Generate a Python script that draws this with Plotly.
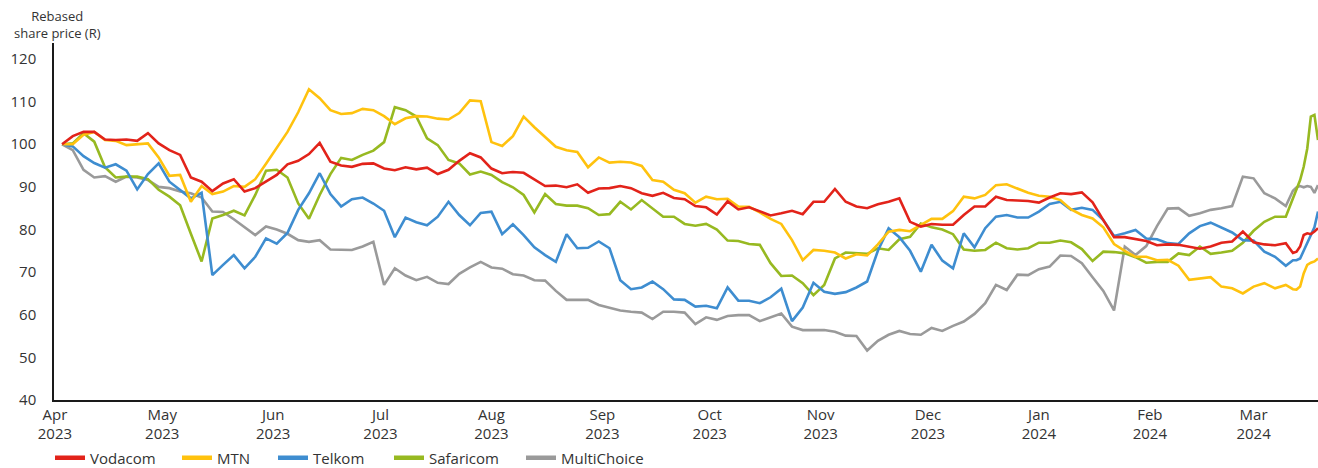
import pandas as pd
import plotly.graph_objects as go

# ---- data (rebased share price, R) ----
grid_dates = list(pd.date_range("2023-04-03", periods=115, freq="3D"))
end_dates = list(pd.date_range("2024-03-12", "2024-03-19", freq="D"))
dates = grid_dates + end_dates

vodacom = [
    100, 101.9, 102.9, 102.9, 101.1, 101.0, 101.1, 100.8, 102.6, 100.2,
    98.6, 97.5, 92.2, 91.2, 89.0, 90.8, 91.8, 88.9, 89.7, 91.2,
    92.8, 95.3, 96.1, 97.7, 100.3, 95.9, 95.0, 94.7, 95.4, 95.5,
    94.3, 93.9, 94.6, 94.1, 94.5, 93.0, 94.0, 96.1, 97.9, 96.9,
    94.3, 93.2, 93.5, 93.3, 91.8, 90.2, 90.3, 89.9, 90.6, 88.6,
    89.6, 89.7, 90.2, 89.7, 88.5, 87.9, 88.6, 87.4, 87.1, 85.5,
    85.2, 83.5, 86.6, 84.7, 85.2, 84.2, 83.3, 83.8, 84.4, 83.6,
    86.5, 86.5, 89.5, 86.5, 85.4, 85.0, 85.9, 86.5, 87.3, 81.8,
    80.7, 81.3, 81.1, 81.1, 83.4, 85.4, 85.4, 87.7, 86.9, 86.8,
    86.7, 86.3, 87.5, 88.5, 88.3, 88.7, 86.4, 82.2, 78.2, 78.2,
    77.7, 77.3, 76.3, 76.5, 76.4, 76.0, 75.5, 76.0, 76.9, 77.2,
    79.5, 77.0, 76.5, 76.3, 76.8,
    74.5, 74.8, 76.0, 78.7, 79.1, 78.9, 79.5, 80.3,
]

mtn = [
    100, 100.0, 102.2, 102.9, 101.0, 100.8, 99.8, 100.0, 100.2, 96.9,
    92.6, 92.8, 86.5, 90.2, 88.3, 88.9, 90.2, 90.0, 91.8, 95.4,
    99.2, 102.9, 107.5, 112.9, 110.8, 108.0, 107.1, 107.3, 108.3, 108.0,
    106.6, 104.7, 106.1, 106.6, 106.5, 106.0, 105.8, 107.3, 110.3, 110.1,
    100.5, 99.6, 101.9, 106.5, 104.0, 101.6, 99.4, 98.6, 98.2, 94.6,
    96.9, 95.7, 95.9, 95.7, 94.9, 91.6, 91.2, 89.3, 88.5, 86.3,
    87.7, 87.1, 87.2, 85.4, 85.3, 84.0, 82.5, 81.3, 77.5, 72.8,
    75.2, 75.0, 74.6, 73.2, 74.2, 73.9, 76.5, 79.5, 79.9, 79.6,
    81.1, 82.5, 82.5, 84.3, 87.7, 87.3, 88.1, 90.4, 90.6, 89.6,
    88.6, 87.9, 87.7, 86.9, 84.7, 83.4, 82.6, 80.5, 76.6, 75.0,
    73.6, 73.6, 72.8, 72.9, 71.5, 68.2, 68.5, 68.8, 66.6, 66.2,
    65.0, 66.6, 67.4, 66.2, 67.0,
    66.0, 65.9, 66.6, 69.7, 71.7, 72.2, 72.5, 73.2,
]

telkom = [
    100, 99.5, 97.2, 95.6, 94.5, 95.3, 93.8, 89.4, 93.0, 95.5,
    91.2, 89.3, 87.3, 88.6, 69.3, 71.7, 74.0, 70.9, 73.6, 77.9,
    76.7, 79.2, 84.6, 88.5, 93.2, 88.3, 85.4, 87.1, 87.5, 86.1,
    84.4, 78.2, 82.8, 81.7, 81.0, 83.0, 86.5, 83.4, 81.0, 83.9,
    84.2, 78.9, 81.2, 78.7, 75.8, 74.0, 72.4, 78.9, 75.6, 75.7,
    77.2, 75.6, 68.1, 66.0, 66.4, 67.8, 66.0, 63.6, 63.5, 61.9,
    62.1, 61.5, 66.4, 63.3, 63.3, 62.7, 64.1, 66.1, 58.5, 61.7,
    67.5, 65.4, 64.9, 65.3, 66.4, 67.8, 75.0, 80.3, 78.2, 75.0,
    70.1, 76.4, 72.7, 70.9, 79.1, 75.8, 80.3, 83.0, 83.4, 82.8,
    82.8, 84.2, 86.0, 86.5, 84.6, 85.1, 84.6, 82.2, 78.5, 79.1,
    79.9, 77.9, 77.7, 76.8, 76.6, 79.1, 80.8, 81.6, 80.5, 79.3,
    77.5, 77.4, 74.8, 73.6, 71.5,
    72.8, 72.8, 73.2, 75.0, 76.9, 78.5, 80.5, 84.2,
]

safaricom = [
    100, 100.2, 102.6, 100.6, 94.6, 92.2, 92.4, 92.4, 91.8, 89.3,
    87.7, 85.7, 79.0, 72.5, 82.6, 83.4, 84.4, 83.3, 88.1, 93.8,
    94.0, 92.2, 86.1, 82.5, 88.1, 93.0, 96.8, 96.3, 97.5, 98.5,
    100.5, 108.7, 108.0, 106.5, 101.4, 99.8, 96.3, 95.5, 92.9, 93.6,
    92.8, 91.1, 89.9, 88.1, 84.0, 88.3, 86.0, 85.6, 85.6, 85.0,
    83.4, 83.6, 86.5, 84.7, 86.9, 85.0, 83.0, 83.0, 81.3, 80.9,
    81.3, 80.0, 77.4, 77.3, 76.6, 76.4, 72.1, 69.1, 69.2, 67.4,
    64.6, 67.0, 73.2, 74.6, 74.5, 74.3, 75.6, 75.2, 77.7, 78.3,
    81.4, 80.5, 80.0, 78.9, 75.3, 75.0, 75.2, 76.9, 75.6, 75.3,
    75.6, 76.9, 76.9, 77.4, 77.0, 75.4, 72.6, 74.8, 74.7, 74.4,
    73.5, 72.2, 72.4, 72.4, 74.4, 74.0, 76.0, 74.3, 74.6, 75.0,
    76.9, 79.7, 81.8, 83.0, 83.0,
    87.3, 89.7, 91.6, 94.7, 99.0, 106.5, 106.9, 101.0,
]

multichoice = [
    100, 98.6, 94.0, 92.2, 92.5, 91.2, 92.4, 92.2, 91.6, 90.0,
    89.7, 88.9, 88.5, 87.5, 84.2, 84.1, 82.4, 80.5, 78.7, 80.7,
    80.0, 79.0, 77.5, 77.1, 77.5, 75.3, 75.2, 75.2, 76.0, 77.1,
    67.0, 70.9, 69.2, 68.1, 68.9, 67.5, 67.2, 69.6, 71.1, 72.4,
    71.1, 70.8, 69.5, 69.2, 68.1, 68.0, 65.6, 63.5, 63.5, 63.5,
    62.3, 61.6, 61.0, 60.7, 60.5, 59.0, 60.7, 60.7, 60.5, 57.8,
    59.4, 58.8, 59.7, 59.9, 59.9, 58.5, 59.4, 60.3, 57.2, 56.4,
    56.4, 56.4, 56.0, 55.1, 55.0, 51.6, 53.9, 55.3, 56.2, 55.5,
    55.3, 56.9, 56.2, 57.4, 58.4, 60.2, 62.7, 67.0, 65.8, 69.4,
    69.3, 70.7, 71.3, 73.9, 73.8, 72.1, 68.8, 65.6, 61.0, 76.0,
    74.0, 76.1, 80.8, 84.9, 85.0, 83.2, 83.8, 84.6, 85.0, 85.5,
    92.4, 92.0, 88.5, 87.3, 85.5,
    89.1, 89.9, 90.2, 89.9, 90.2, 90.0, 88.6, 90.4,
]

series_names = ["Vodacom", "MTN", "Telkom", "Safaricom", "MultiChoice"]
series_values = [vodacom, mtn, telkom, safaricom, multichoice]
series_colors = ["#E2231A", "#FFC20E", "#3E8DD0", "#97B921", "#9A9A9A"]

tick_dates = list(pd.date_range("2023-04-01", "2024-03-01", freq="MS"))
tick_labels = ["Apr<br>2023", "May<br>2023", "Jun<br>2023", "Jul<br>2023",
               "Aug<br>2023", "Sep<br>2023", "Oct<br>2023", "Nov<br>2023",
               "Dec<br>2023", "Jan<br>2024", "Feb<br>2024", "Mar<br>2024"]
y_ticks = [40, 50, 60, 70, 80, 90, 100, 110, 120]
y_title = "Rebased<br>share price (R)"

FONT = "Open Sans, Lato, Liberation Sans, sans-serif"
TXT = "#333333"
W, H = 1318, 468
legend_key_px = [50, 177, 273, 389, 521]   # left edge of each legend entry

fig = go.Figure()
# draw order: grey at the back, red on top
for idx in [4, 3, 2, 1, 0]:
    fig.add_trace(go.Scatter(
        x=dates, y=series_values[idx], name=series_names[idx], mode="lines",
        line=dict(color=series_colors[idx], width=2.6), showlegend=False,
    ))

legend_layouts = {}
for idx in range(5):
    lname = "legend" if idx == 0 else f"legend{idx + 1}"
    fig.add_trace(go.Scatter(
        x=[None], y=[None], name=series_names[idx], mode="lines",
        line=dict(color=series_colors[idx], width=4.5), showlegend=True,
        legend=lname,
    ))
    legend_layouts[lname] = dict(
        orientation="h", xref="container", x=legend_key_px[idx] / W,
        xanchor="left", yref="container", y=0.0215, yanchor="middle",
        font=dict(family=FONT, size=15, color=TXT),
        bgcolor="rgba(0,0,0,0)", borderwidth=0,
    )

fig.update_layout(
    width=W, height=H,
    margin=dict(l=54, r=0, t=43, b=68),
    paper_bgcolor="white", plot_bgcolor="white",
    font=dict(family=FONT, size=15, color=TXT),
    showlegend=True,
    annotations=[
        dict(text=y_title, xref="paper", x=0, xanchor="center",
             xshift=3, yref="paper", y=1, yanchor="middle", yshift=19,
             showarrow=False, align="center",
             font=dict(family=FONT, size=13, color=TXT)),
    ],
    **legend_layouts,
)
fig.update_xaxes(
    type="date", range=["2023-03-31 18:00", "2024-03-19 00:00"],
    tickvals=tick_dates, ticktext=tick_labels, ticks="", automargin=False,
    showgrid=False, zeroline=False, showline=True, linecolor="#1a1a1a",
    linewidth=1.5, tickfont=dict(family=FONT, size=15, color=TXT),
)
fig.update_yaxes(
    range=[40, 123.75], tickvals=y_ticks, ticks="", ticklabelstandoff=13,
    automargin=False,
    showgrid=False, zeroline=False, showline=True, linecolor="#1a1a1a",
    linewidth=1.5, tickfont=dict(family=FONT, size=15, color=TXT),
)

fig.write_html("out.html", config={"displayModeBar": False},
               post_script="document.body.style.margin='0';")
